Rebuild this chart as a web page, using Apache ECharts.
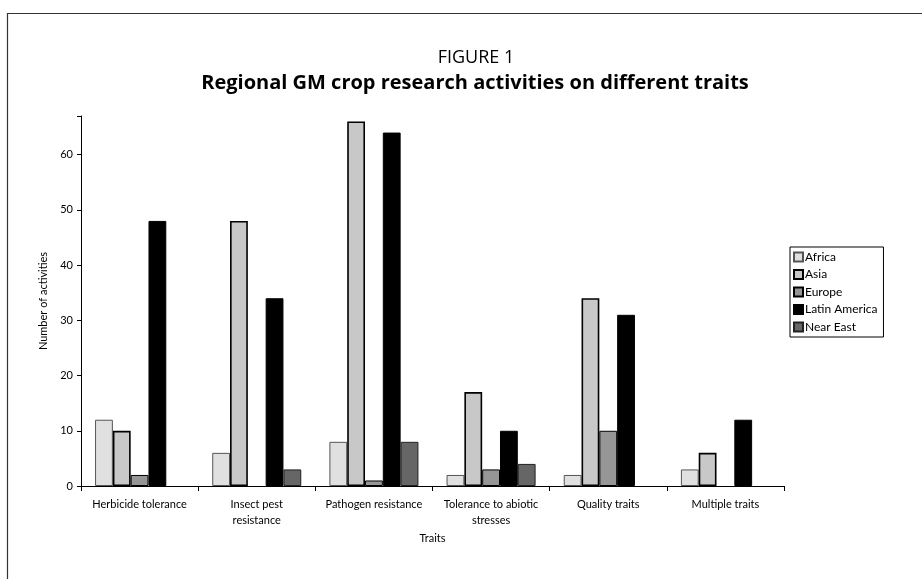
<!DOCTYPE html>
<html>
<head>
<meta charset="utf-8">
<script src="https://cdn.jsdelivr.net/npm/echarts@6/dist/echarts.min.js"></script>
<style>
  html, body { margin: 0; padding: 0; background: #fff; }
  #chart { width: 922px; height: 579px; }
</style>
</head>
<body>
<div id="chart"></div>
<script>
const traits = ['Herbicide tolerance', 'Insect pest\nresistance', 'Pathogen resistance',
  'Tolerance to abiotic\nstresses', 'Quality traits', 'Multiple traits']
const africa = [12, 6, 8, 2, 2, 3]
const asia = [10, 48, 66, 17, 34, 6]
const europe = [2, 0, 1, 3, 10, 0]
const latinAmerica = [48, 34, 64, 10, 31, 12]
const nearEast = [0, 3, 8, 4, 0, 0]
const yTicks = [0, 10, 20, 30, 40, 50, 60]

const font = 'Lato, "Open Sans", sans-serif'
const titleFont = '"Open Sans", sans-serif'

// zero counts draw no bar at all in the original
const bar = (name, data, fill, stroke, bw) => ({
  name,
  type: 'bar',
  data: data.map(v => (v === 0 ? null : v)),
  barGap: 0,
  barCategoryGap: '24%',
  itemStyle: { color: fill, borderColor: stroke, borderWidth: bw },
  emphasis: { disabled: true }
})

const chart = echarts.init(document.getElementById('chart'))
chart.setOption({
  animation: false,
  textStyle: { fontFamily: font, color: '#000' },
  title: [
    { text: 'FIGURE 1', left: 471, top: 44, textAlign: 'center',
      textStyle: { fontSize: 18, fontWeight: 'normal', fontFamily: titleFont, color: '#000' } },
    { text: 'Regional GM crop research activities on different traits', left: 470, top: 68, textAlign: 'center',
      textStyle: { fontSize: 20, fontWeight: 'bold', fontFamily: titleFont, color: '#000' } }
  ],
  graphic: [{
    type: 'rect', left: 5, top: 11, silent: true,
    shape: { width: 940, height: 600 },
    style: { fill: 'none', stroke: '#333', lineWidth: 1.2 }
  }],
  legend: {
    orient: 'vertical', left: 790, top: 247,
    icon: 'rect',
    itemWidth: 9, itemHeight: 9, itemGap: 5.5,
    padding: [4, 6, 4, 3],
    borderColor: '#000', borderWidth: 1,
    textStyle: { fontSize: 12, fontFamily: font, color: '#000', padding: [0, 0, 0, -3] },
    data: ['Africa', 'Asia', 'Europe', 'Latin America', 'Near East']
  },
  grid: { left: 81, right: 138, top: 116, bottom: 93 },
  xAxis: {
    type: 'category',
    data: traits,
    name: 'Traits', nameLocation: 'middle', nameGap: 43,
    nameTextStyle: { fontSize: 11, color: '#000' },
    axisLine: { lineStyle: { color: '#000', width: 1 } },
    axisTick: { show: true, length: 5, lineStyle: { color: '#000' } },
    axisLabel: { fontSize: 11, color: '#000', margin: 10, lineHeight: 16, interval: 0 }
  },
  yAxis: {
    type: 'value',
    min: 0, max: 67, interval: 10,
    name: 'Number of activities', nameLocation: 'middle', nameGap: 30,
    nameTextStyle: { fontSize: 11, color: '#000' },
    splitLine: { show: false },
    axisLine: { show: true, lineStyle: { color: '#000', width: 1 } },
    axisTick: { show: true, length: 4, lineStyle: { color: '#000' } },
    axisLabel: { fontSize: 11, color: '#000', margin: 8,
      formatter: v => yTicks.includes(v) ? String(v) : '' }
  },
  series: [
    bar('Africa', africa, '#e0e0e0', '#555', 1),
    bar('Asia', asia, '#c8c8c8', '#000', 1.6),
    bar('Europe', europe, '#969696', '#000', 1),
    bar('Latin America', latinAmerica, '#000', '#000', 1),
    bar('Near East', nearEast, '#666', '#222', 1)
  ]
})
</script>
</body>
</html>
